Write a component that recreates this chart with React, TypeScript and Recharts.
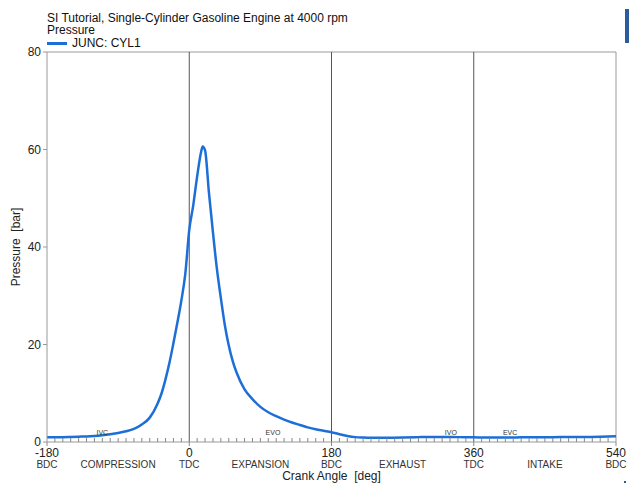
import {
  LineChart,
  Line,
  XAxis,
  YAxis,
  ReferenceLine,
  ReferenceDot,
} from 'recharts';

// cylinder pressure vs crank angle
const crankAngle = [
  -180, -170, -160, -150, -140, -130, -120, -110, -100, -90, -80, -70, -60, -50, -40, -35, -30, -25,
  -20, -15, -10, -5, 0, 5, 10, 15, 17, 20, 25, 30, 35, 40, 45, 50, 55, 60, 70, 80, 90, 100, 110,
  120, 130, 140, 150, 160, 170, 180, 190, 200, 210, 220, 230, 250, 270, 290, 300, 320, 340, 360,
  380, 400, 420, 440, 460, 480, 500, 520, 540,
];
const pressure = [
  1.0, 1.0, 1.0, 1.05, 1.1, 1.15, 1.25, 1.4, 1.6, 1.85, 2.2, 2.7, 3.6, 5.0, 7.9, 10.0, 12.9, 16.3,
  20.3, 24.5, 29.0, 34.5, 43.5, 48.5, 54.5, 59.5, 60.6, 59.8, 51.0, 43.0, 35.5, 29.5, 24.0, 19.8,
  16.6, 14.2, 10.8, 8.8, 7.2, 6.1, 5.3, 4.6, 4.0, 3.5, 3.0, 2.6, 2.3, 2.0, 1.6, 1.25, 1.0, 0.9,
  0.85, 0.85, 0.9, 1.0, 1.05, 1.05, 1.0, 0.95, 0.9, 0.9, 0.95, 1.0, 1.0, 1.05, 1.05, 1.1, 1.2,
];

const majorTicks = [-180, 0, 180, 360, 540];
const majorSub = ['BDC', 'TDC', 'BDC', 'TDC', 'BDC'];
const phaseAngles = [-90, 90, 270, 450];
const phaseNames = ['COMPRESSION', 'EXPANSION', 'EXHAUST', 'INTAKE'];
const valveEvents = ['IVC', 'EVO', 'IVO', 'EVC'];
const valveAngles = [-110, 106, 331, 406];
const yTicks = [0, 20, 40, 60, 80];

const data = crankAngle.map((a, i) => ({ angle: a, p: pressure[i] }));

const minorTicks: number[] = [];
for (let a = -180; a <= 540; a += 10) minorTicks.push(a);

const FONT = '"Liberation Sans", Arial, sans-serif';
const BLUE = '#1d6fd8';

// x ticks: minor marks inside the frame, labels + BDC/TDC under the majors,
// stroke names centred between them
const AngleTick = (props: any) => {
  const { x, y, payload } = props;
  const v = payload.value as number;
  const mi = majorTicks.indexOf(v);
  const pi = phaseAngles.indexOf(v);
  return (
    <g>
      {mi >= 0 ? (
        <>
          <line x1={x} x2={x} y1={y} y2={y + 4} stroke="#888" />
          <text x={x} y={y + 15} textAnchor="middle" fontSize={12} fill="#222" fontFamily={FONT}>
            {v}
          </text>
          <text x={x} y={y + 26} textAnchor="middle" fontSize={10} fill="#333" fontFamily={FONT}>
            {majorSub[mi]}
          </text>
        </>
      ) : (
        <line x1={x} x2={x} y1={y} y2={y - 4} stroke="#888" />
      )}
      {pi >= 0 && (
        <text x={x} y={y + 26} textAnchor="middle" fontSize={10} fill="#333" fontFamily={FONT}>
          {phaseNames[pi]}
        </text>
      )}
    </g>
  );
};

export default function App() {
  return (
    <div style={{ position: 'absolute', left: 0, top: 0, width: 629, height: 487, background: '#fff', fontFamily: FONT }}>
      <div style={{ position: 'absolute', left: 47, top: 12, fontSize: 12, lineHeight: '12px', color: '#111' }}>
        SI Tutorial, Single-Cylinder Gasoline Engine at 4000 rpm
        <br />
        Pressure
      </div>
      <div style={{ position: 'absolute', left: 47, top: 37, fontSize: 12, lineHeight: '12px', color: '#111', display: 'flex', alignItems: 'center' }}>
        <span style={{ display: 'inline-block', width: 20, height: 3, background: BLUE, marginRight: 5 }} />
        JUNC: CYL1
      </div>
      <div style={{ position: 'absolute', left: 625, top: 9, width: 4, height: 34, background: '#2b5c9c' }} />
      <div style={{ position: 'absolute', left: 624, top: 481, width: 2, height: 2, background: '#2b5c9c' }} />
      <div style={{ position: 'absolute', left: 0, top: 0 }}>
        <LineChart width={629} height={487} data={data} margin={{ top: 52, right: 13, bottom: 0, left: 0 }}>
          <XAxis
            dataKey="angle"
            type="number"
            domain={[-180, 540]}
            ticks={minorTicks}
            interval={0}
            tickSize={0}
            tickMargin={0}
            tickLine={false}
            tick={<AngleTick />}
            height={45}
            stroke="#999"
            label={{ value: 'Crank Angle\u00a0\u00a0[deg]', position: 'insideBottom', offset: 7, fontSize: 12, fill: '#222', fontFamily: FONT }}
          />
          <YAxis
            type="number"
            domain={[0, 80]}
            ticks={yTicks}
            width={47}
            tickSize={4}
            stroke="#999"
            tick={{ fontSize: 12, fill: '#222', fontFamily: FONT }}
            label={{ value: 'Pressure\u00a0\u00a0[bar]', angle: -90, position: 'insideLeft', offset: 16, fontSize: 12, fill: '#222', fontFamily: FONT, style: { textAnchor: 'middle' } }}
          />
          <ReferenceLine y={80} stroke="#999" />
          <ReferenceLine x={540} stroke="#999" />
          {[0, 180, 360].map((a) => (
            <ReferenceLine key={a} x={a} stroke="#555" />
          ))}
          {valveEvents.map((name, i) => (
            <ReferenceDot
              key={name}
              x={valveAngles[i]}
              y={1.9}
              r={0}
              label={{ value: name, fontSize: 7, fill: '#333', fontFamily: FONT, position: 'center' }}
            />
          ))}
          <Line
            type="monotone"
            dataKey="p"
            stroke={BLUE}
            strokeWidth={2.5}
            dot={false}
            isAnimationActive={false}
          />
        </LineChart>
      </div>
    </div>
  );
}
